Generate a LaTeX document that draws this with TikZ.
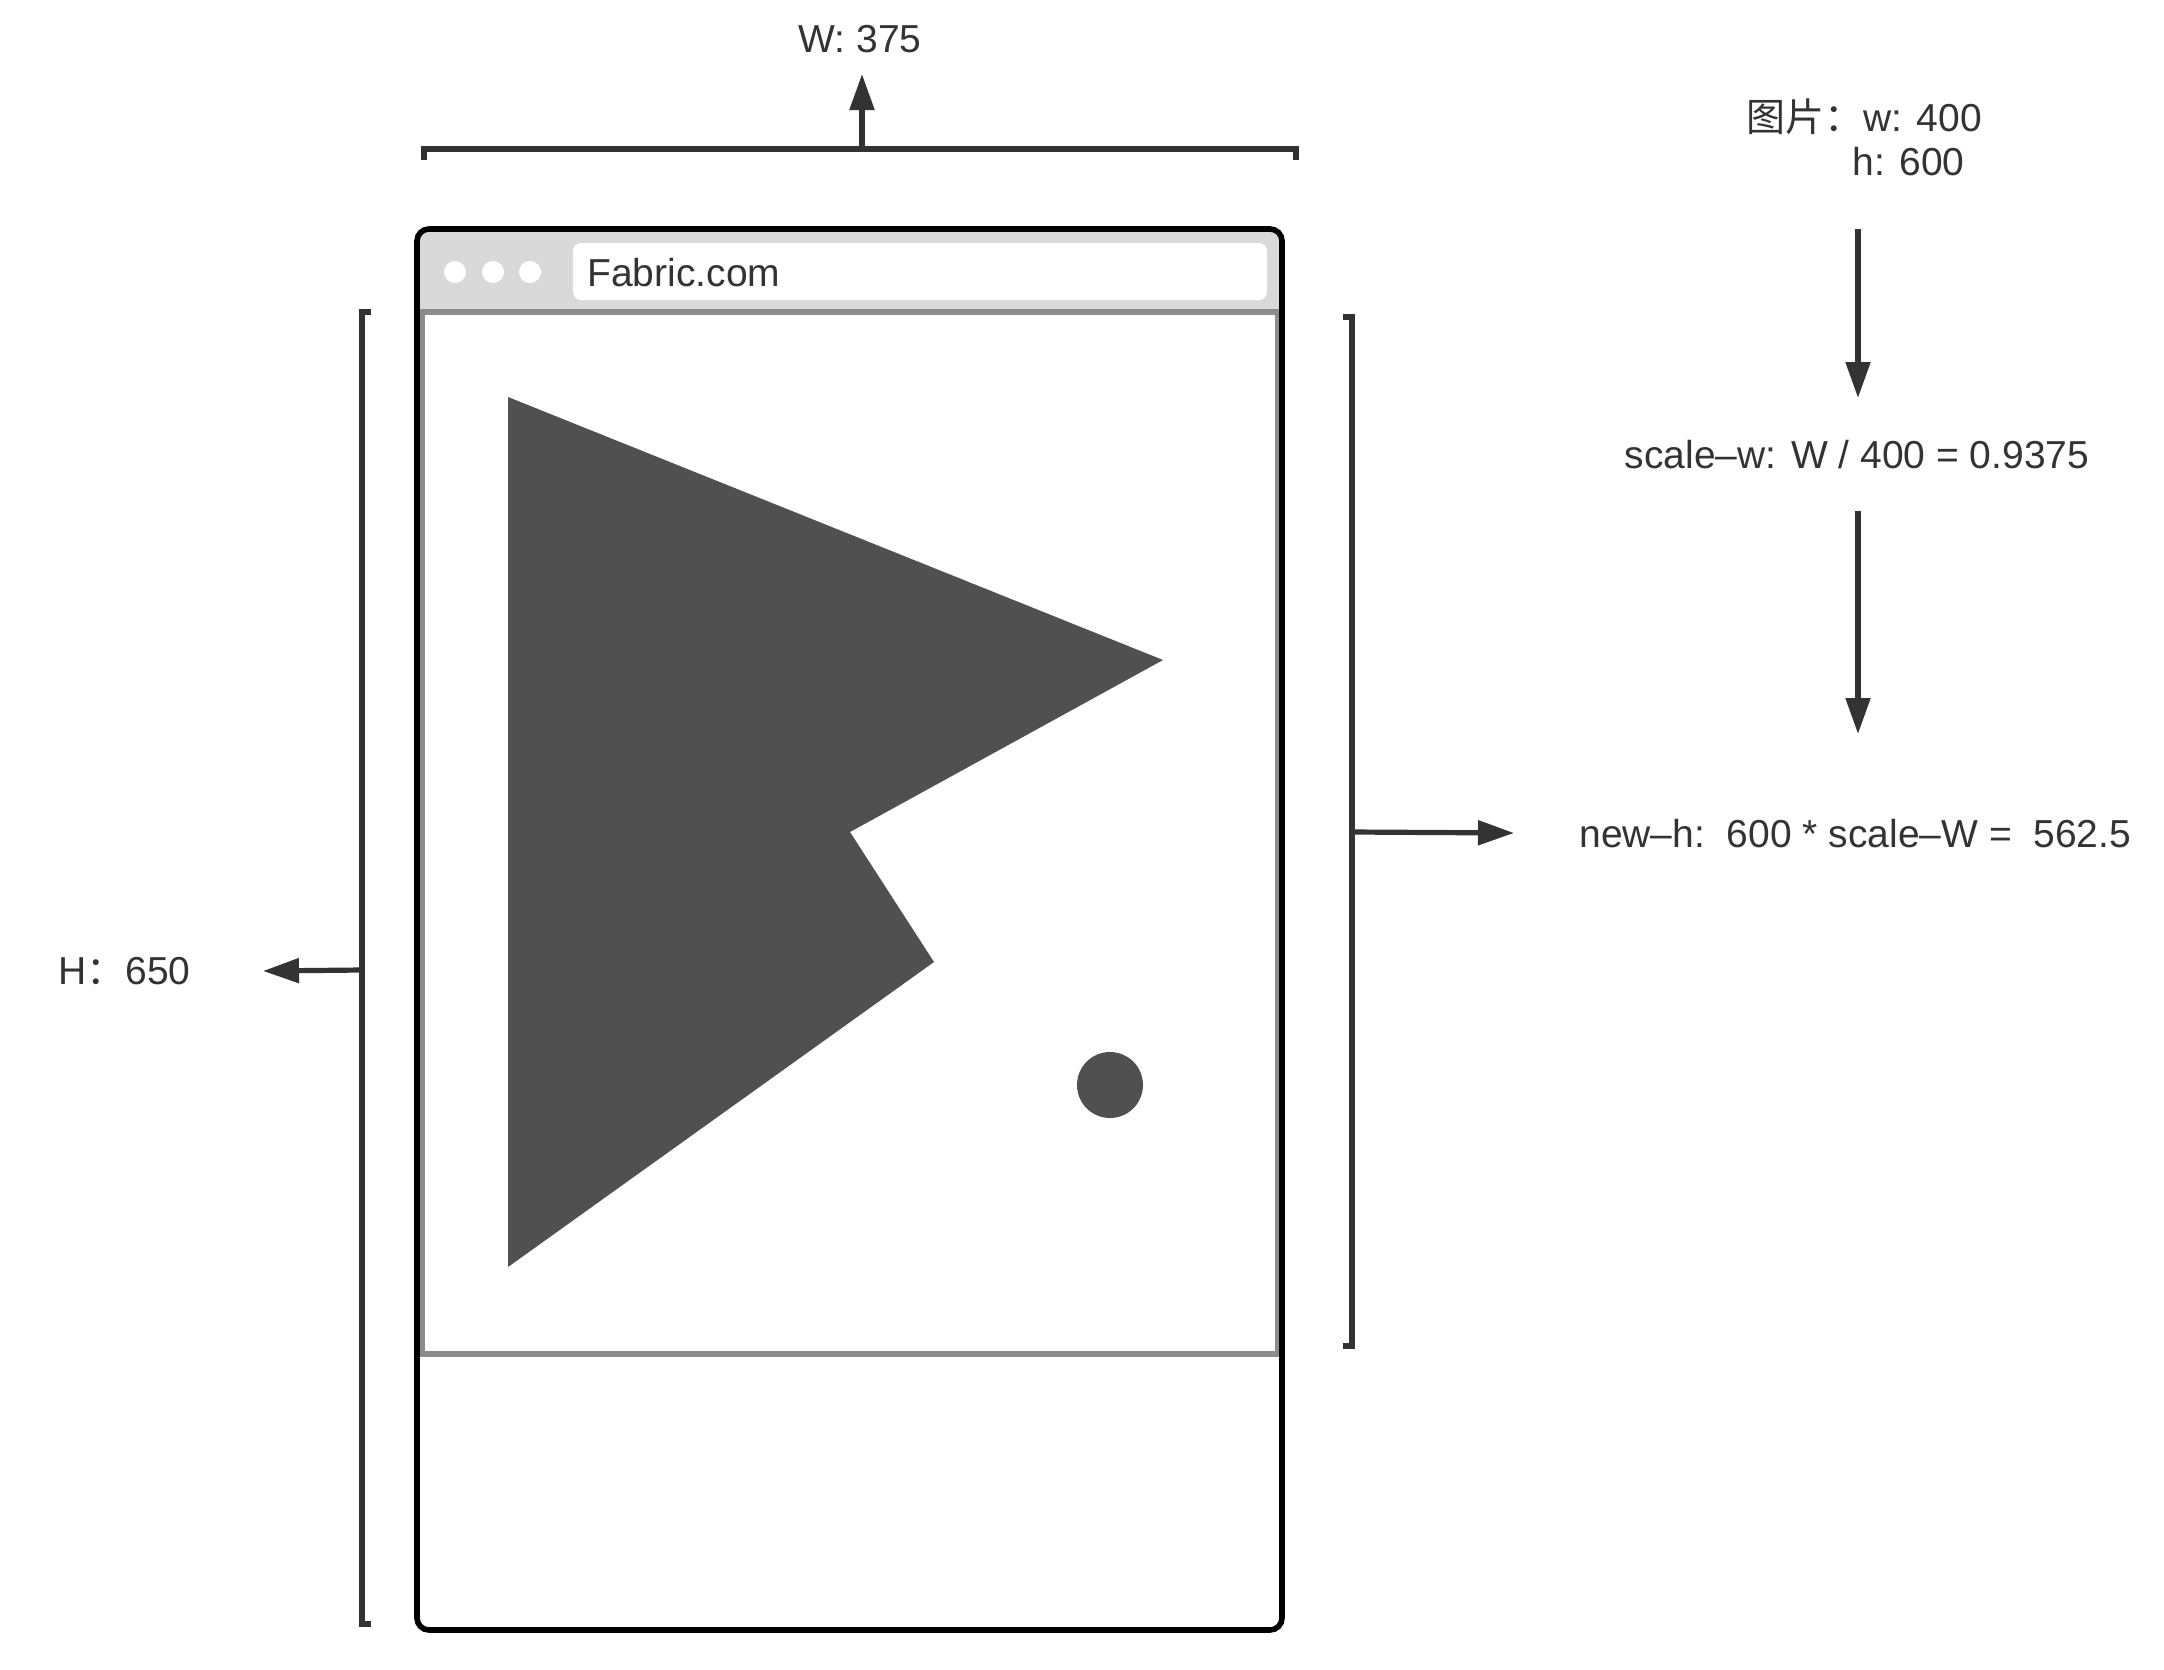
\documentclass[tikz,border=0pt]{standalone}
\usepackage{fontspec}
\setmainfont{Liberation Sans}
\newfontfamily\cjk{Noto Sans CJK SC}
\usetikzlibrary{arrows.meta}
\definecolor{ink}{HTML}{333333}
\definecolor{shapegray}{HTML}{505050}
\definecolor{bargray}{HTML}{D9D9D9}
\definecolor{divider}{HTML}{8C8C8C}
\begin{document}
\begin{tikzpicture}[x=0.5pt,y=-0.5pt,
  lbl/.style={text=ink, font=\fontsize{19.5}{23}\selectfont, inner sep=0pt},
  dimline/.style={draw=ink, line width=2.6pt},
  darrow/.style={draw=ink, line width=2.6pt, -{Triangle[length=18pt,width=12pt]}},
  frameline/.style={draw=black, line width=2.8pt, rounded corners=6pt},
]
\useasboundingbox (0,0) rectangle (2164,1670);

% ---- browser window ----
\begin{scope}
  \clip[rounded corners=6pt] (417,229) rectangle (1282,1630);
  \fill[white] (417,229) rectangle (1282,1630);
  \fill[bargray] (417,229) rectangle (1282,312);
\end{scope}
\node[draw=divider, line width=2.6pt, fill=white, inner sep=0pt,
      minimum width=428pt, minimum height=521pt] (content) at (850,833) {};
\draw[frameline] (417,229) rectangle (1282,1630);

\node[fill=white, rounded corners=4pt, inner sep=0pt,
      minimum width=347pt, minimum height=28.5pt] (addr) at (920,271.5) {};
\node[lbl, anchor=west] (site) at (587,273) {Fabric.com};
\fill[white] (455,272) circle[radius=5.5pt];
\fill[white] (493,272) circle[radius=5.5pt];
\fill[white] (530,272) circle[radius=5.5pt];

% ---- image shapes ----
\fill[shapegray] (508,397) -- (1163,660) -- (850,832) -- (934,962) -- (508,1267) -- cycle;
\fill[shapegray] (1110,1085) circle[radius=16.5pt];

% ---- top dimension W ----
\coordinate (wmid) at (862,149);
\coordinate (wtip) at (862,74);
\draw[dimline] (424,160) -- (424,149) -- (1296,149) -- (1296,160);
\draw[darrow] (wmid) -- (wtip);
\node[lbl] (wlab) at (860,39) {W: 375};

% ---- left dimension H ----
\coordinate (hmid) at (362,970);
\coordinate (htip) at (263,971);
\draw[dimline] (371,312) -- (362,312) -- (362,1624) -- (371,1624);
\draw[darrow] (hmid) -- (htip);
\node[lbl, anchor=west] (hlab) at (58,971) {H{\cjk ：}650};

% ---- right dimension new-h ----
\coordinate (rmid) at (1352,832);
\coordinate (rtip) at (1514,833);
\draw[dimline] (1343,317) -- (1352,317) -- (1352,1346) -- (1343,1346);
\draw[darrow] (rmid) -- (rtip);
\node[lbl, anchor=west] (newh) at (1579,834) {new–h:\ \ 600 * scale–W =\ \ 562.5};

% ---- right column ----
\node[lbl, anchor=west] (imgw) at (1746,117) {{\cjk 图片：}w: 400};
\node[lbl, anchor=west] (imgh) at (1852,162) {h: 600};
\node[lbl] (scale) at (1857,455) {scale–w: W / 400 = 0.9375};
\coordinate (a1s) at (1858,229);
\coordinate (a1e) at (1858,398);
\coordinate (a2s) at (1858,511);
\coordinate (a2e) at (1858,734);
\draw[darrow] (a1s) -- (a1e);
\draw[darrow] (a2s) -- (a2e);
\end{tikzpicture}
\end{document}
